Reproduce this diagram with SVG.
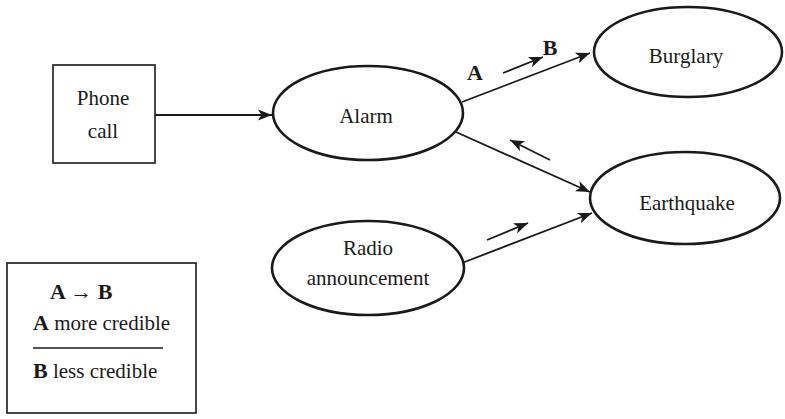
<svg xmlns="http://www.w3.org/2000/svg" width="785" height="419" viewBox="0 0 785 419">
<style>
.node{fill:#fff;stroke:#1a1a1a;stroke-width:2.6}
.box{fill:#fff;stroke:#1a1a1a;stroke-width:1.6}
.lbl{font-family:"Liberation Serif","Times New Roman","DejaVu Serif",serif;font-size:21px;fill:#1a1a1a;text-anchor:middle}
.leg{font-family:"Liberation Serif","Times New Roman","DejaVu Serif",serif;font-size:21px;fill:#1a1a1a}
.b{font-weight:bold;font-size:22px}
.edge{fill:none;stroke:#1a1a1a;stroke-width:1.8}
</style>
<defs>
<marker id="ah" markerUnits="userSpaceOnUse" markerWidth="16" markerHeight="12" refX="14" refY="6" orient="auto">
<path d="M0,0.5 L14,6 L0,11.5 L3.5,6 Z" fill="#1a1a1a"/>
</marker>
</defs>
<rect width="785" height="419" fill="#fff"/>
<g id="connectors">
<line class="edge" x1="155" y1="115" x2="272" y2="115" marker-end="url(#ah)"/>
<line class="edge" x1="462" y1="102" x2="590" y2="53" marker-end="url(#ah)"/>
<line class="edge" x1="456" y1="132" x2="590" y2="192" marker-end="url(#ah)"/>
<line class="edge" x1="462" y1="263" x2="592" y2="213" marker-end="url(#ah)"/>
<line class="edge" x1="503" y1="73" x2="543" y2="57" marker-end="url(#ah)"/>
<line class="edge" x1="550" y1="160" x2="510" y2="140" marker-end="url(#ah)"/>
<line class="edge" x1="487" y1="240" x2="528" y2="223" marker-end="url(#ah)"/>
<text class="lbl b" x="475" y="80">A</text>
<text class="lbl b" x="550" y="55">B</text>
</g>
<g id="phone">
<rect class="box" x="53" y="65" width="102" height="98"/>
<text class="lbl" x="103" y="105">Phone</text>
<text class="lbl" x="103" y="138">call</text>
</g>
<g id="alarm">
<ellipse class="node" cx="368" cy="113" rx="95" ry="47"/>
<text class="lbl" x="366" y="123">Alarm</text>
</g>
<g id="burglary">
<ellipse class="node" cx="688" cy="52" rx="94" ry="45"/>
<text class="lbl" x="686" y="63">Burglary</text>
</g>
<g id="earthquake">
<ellipse class="node" cx="685" cy="198" rx="95" ry="46"/>
<text class="lbl" x="687" y="210">Earthquake</text>
</g>
<g id="radio">
<ellipse class="node" cx="368" cy="268" rx="96" ry="47"/>
<text class="lbl" x="368" y="255">Radio</text>
<text class="lbl" x="368" y="285">announcement</text>
</g>
<g id="legend">
<rect class="box" x="7" y="263" width="189" height="150"/>
<text class="leg b" x="50" y="299">A → B</text>
<text class="leg" x="33" y="330"><tspan class="b">A</tspan> more credible</text>
<line x1="33" y1="348" x2="163" y2="348" stroke="#1a1a1a" stroke-width="1.6"/>
<text class="leg" x="33" y="378"><tspan class="b">B</tspan> less credible</text>
</g>
</svg>
